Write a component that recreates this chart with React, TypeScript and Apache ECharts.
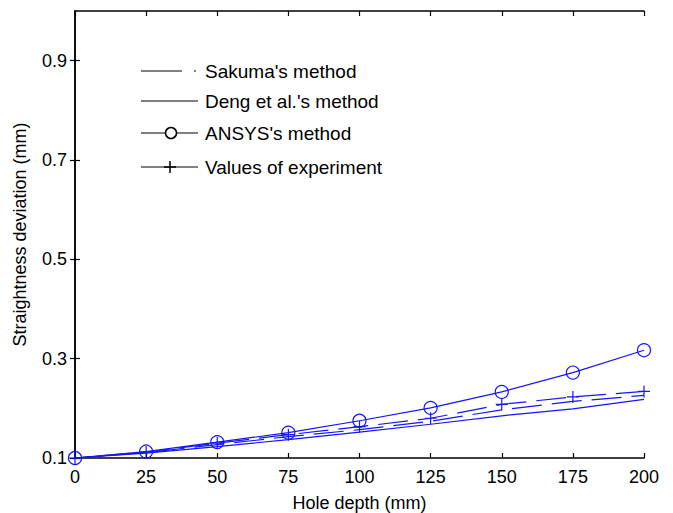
import React, { useEffect, useRef } from "react";
import * as echarts from "echarts";

const depths = [0, 25, 50, 75, 100, 125, 150, 175, 200];
const ansys = [0.1, 0.113, 0.132, 0.151, 0.175, 0.201, 0.233, 0.272, 0.317];
const experiment = [0.1, 0.112, 0.13, 0.147, 0.163, 0.18, 0.208, 0.223, 0.234];
const sakuma = [0.1, 0.111, 0.127, 0.143, 0.157, 0.174, 0.197, 0.214, 0.226];
const deng = [0.1, 0.11, 0.123, 0.137, 0.152, 0.168, 0.185, 0.199, 0.218];
const yTicks = [0.1, 0.3, 0.5, 0.7, 0.9];
const legendNames = ["Sakuma's method", "Deng et al.'s method", "ANSYS's method", "Values of experiment"];

const BLUE = "#1414ff";
const FONT = "Liberation Sans";

export default function App() {
  const ref = useRef<HTMLDivElement>(null);
  useEffect(() => {
    if (!ref.current) return;
    const chart = echarts.init(ref.current, null, { renderer: "svg" });
    const pair = (ys: number[]) => depths.map((d, i) => [d, ys[i]]);
    const plusPath = "path://M0,-6 L0,6 M-6,0 L6,0";
    const axisLine = { show: true, lineStyle: { color: "#000", width: 1.5 } };
    const tickStyle = { show: true, inside: true, length: 5, lineStyle: { color: "#000", width: 1.2 } };
    const labelStyle = { color: "#000", fontSize: 18, fontFamily: FONT };
    const legendY = [71, 101, 133, 167];
    const lx0 = 141, lx1 = 198, tx = 205;
    const graphic: any[] = [];
    graphic.push({ type: "line", shape: { x1: lx0, y1: legendY[0], x2: 182, y2: legendY[0] }, style: { stroke: "#000", lineWidth: 1 } });
    graphic.push({ type: "line", shape: { x1: 194, y1: legendY[0], x2: 196, y2: legendY[0] }, style: { stroke: "#000", lineWidth: 1 } });
    graphic.push({ type: "line", shape: { x1: lx0, y1: legendY[1], x2: lx1, y2: legendY[1] }, style: { stroke: "#000", lineWidth: 1 } });
    graphic.push({ type: "line", shape: { x1: lx0, y1: legendY[2], x2: lx1, y2: legendY[2] }, style: { stroke: "#000", lineWidth: 1 } });
    graphic.push({ type: "circle", shape: { cx: 171, cy: legendY[2], r: 5.5 }, style: { stroke: "#000", fill: "#fff", lineWidth: 1.5 } });
    graphic.push({ type: "line", shape: { x1: lx0, y1: legendY[3], x2: lx1, y2: legendY[3] }, style: { stroke: "#000", lineWidth: 1 } });
    graphic.push({ type: "line", shape: { x1: 170, y1: legendY[3] - 6, x2: 170, y2: legendY[3] + 6 }, style: { stroke: "#000", lineWidth: 1.5 } });
    graphic.push({ type: "line", shape: { x1: 164, y1: legendY[3], x2: 176, y2: legendY[3] }, style: { stroke: "#000", lineWidth: 1.5 } });
    legendNames.forEach((n, i) => {
      graphic.push({
        type: "text",
        x: tx,
        y: legendY[i],
        style: { text: n, fill: "#000", fontSize: 19, fontFamily: FONT, verticalAlign: "middle", align: "left" },
      });
    });

    chart.setOption({
      animation: false,
      backgroundColor: "#fff",
      grid: { left: 75, right: 29, top: 11, bottom: 55, containLabel: false, outerBoundsMode: "none" },
      xAxis: [
        {
          type: "value",
          min: 0,
          max: 200,
          interval: 25,
          position: "bottom",
          name: "Hole depth (mm)",
          nameLocation: "middle",
          nameGap: 36,
          nameTextStyle: { color: "#000", fontSize: 18, fontFamily: FONT },
          axisLine,
          axisTick: tickStyle,
          axisLabel: { ...labelStyle, margin: 10 },
          splitLine: { show: false },
        },
        {
          type: "value",
          min: 0,
          max: 200,
          interval: 25,
          position: "top",
          axisLine,
          axisTick: tickStyle,
          axisLabel: { show: false },
          splitLine: { show: false },
        },
      ],
      yAxis: [
        {
          type: "value",
          min: 0.1,
          max: 1.0,
          position: "left",
          name: "Straightness deviation (mm)",
          nameLocation: "middle",
          nameGap: 46,
          nameTextStyle: { color: "#000", fontSize: 18, fontFamily: FONT },
          axisLine,
          axisTick: { ...tickStyle, customValues: yTicks },
          axisLabel: { ...labelStyle, margin: 8, customValues: yTicks, formatter: (v: number) => v.toFixed(1) },
          splitLine: { show: false },
        },
        {
          type: "value",
          min: 0.1,
          max: 1.0,
          position: "right",
          axisLine,
          axisTick: { ...tickStyle, customValues: yTicks },
          axisLabel: { show: false, customValues: yTicks },
          splitLine: { show: false },
        },
      ],
      series: [
        {
          name: legendNames[0],
          type: "line",
          data: pair(sakuma),
          symbol: "none",
          lineStyle: { color: BLUE, width: 1.2, type: [30, 10] },
        },
        {
          name: legendNames[1],
          type: "line",
          data: pair(deng),
          symbol: "none",
          lineStyle: { color: BLUE, width: 1.2 },
        },
        {
          name: legendNames[2],
          type: "line",
          data: pair(ansys),
          symbol: "circle",
          symbolSize: 13,
          itemStyle: { color: "none", borderColor: BLUE, borderWidth: 1.2 },
          lineStyle: { color: BLUE, width: 1.2 },
        },
        {
          name: legendNames[3],
          type: "line",
          data: pair(experiment),
          symbol: plusPath,
          symbolSize: 12,
          itemStyle: { color: "none", borderColor: BLUE, borderWidth: 1.2 },
          lineStyle: { color: BLUE, width: 1.2, type: [30, 10], dashOffset: 15 },
        },
      ],
      graphic,
    });
    return () => chart.dispose();
  }, []);
  return (
    <div
      ref={ref}
      style={{ position: "fixed", left: 0, top: 0, width: 673, height: 513, background: "#fff" }}
    />
  );
}
